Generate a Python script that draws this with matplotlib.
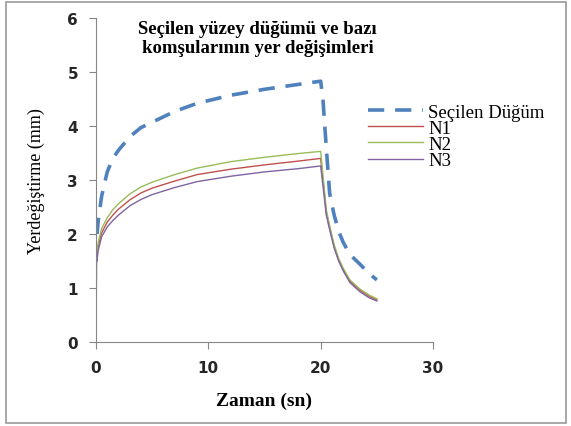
import numpy as np
import matplotlib.pyplot as plt
from matplotlib.patches import Rectangle

t = [0, 0.05, 0.2, 0.5, 1, 1.5, 2, 3, 4, 5, 7, 9, 12, 15, 18, 20,
     20.2, 20.5, 20.8, 21.2, 21.6, 22, 22.6, 23.5, 24.3, 25]
secilen = [1.5, 1.9, 2.25, 2.7, 3.15, 3.4, 3.55, 3.8, 3.97, 4.07, 4.27, 4.42, 4.57, 4.68, 4.77, 4.83,
           4.5, 3.6, 2.75, 2.35, 2.05, 1.85, 1.62, 1.44, 1.27, 1.15]
n1 = [1.3, 1.55, 1.78, 2.02, 2.22, 2.35, 2.46, 2.63, 2.76, 2.85, 2.98, 3.1, 3.2, 3.28, 3.35, 3.4,
      3.0, 2.4, 2.12, 1.77, 1.52, 1.34, 1.13, 0.96, 0.85, 0.78]
n2 = [1.35, 1.6, 1.85, 2.1, 2.3, 2.45, 2.56, 2.74, 2.87, 2.96, 3.1, 3.22, 3.34, 3.42, 3.49, 3.53,
      3.1, 2.45, 2.15, 1.8, 1.55, 1.37, 1.15, 0.98, 0.87, 0.8]
n3 = [0, 1.45, 1.7, 1.95, 2.13, 2.25, 2.35, 2.52, 2.64, 2.73, 2.86, 2.97, 3.07, 3.15, 3.21, 3.26,
      2.9, 2.35, 2.08, 1.74, 1.5, 1.32, 1.1, 0.93, 0.82, 0.76]

serif = "Liberation Serif"

fig = plt.figure(figsize=(5.71, 4.27), dpi=100)
ax = fig.add_axes([96/571, 1 - 343/427, 337/571, 324/427])

ax.plot(t, secilen, color="#4F81BD", lw=2.6, dashes=(4.5, 3), label="Seçilen Düğüm")
ax.plot(t, n1, color="#C0504D", lw=1, label="N1")
ax.plot(t, n2, color="#9BBB59", lw=1, label="N2")
ax.plot(t, n3, color="#8064A2", lw=1, label="N3")

ax.set_xlim(0, 30)
ax.set_ylim(0, 6)
ax.set_xticks([0, 10, 20, 30])
ax.set_yticks([0, 1, 2, 3, 4, 5, 6])
for s in ["top", "right"]:
    ax.spines[s].set_visible(False)
for s in ["left", "bottom"]:
    ax.spines[s].set_color("#868686")
ax.tick_params(colors="#868686", labelcolor="#262626", length=5, pad=8)
for lab in ax.get_xticklabels() + ax.get_yticklabels():
    lab.set_fontweight("bold")
    lab.set_fontsize(11)

ax.set_xlabel("Zaman (sn)", fontfamily=serif, fontweight="bold", fontsize=14, labelpad=12)
ax.set_ylabel("Yerdeğiştirme (mm)", fontfamily=serif, fontsize=13, labelpad=16)

ax.text(0.48, 0.995, "Seçilen yüzey düğümü ve bazı\nkomşularının yer değişimleri",
        transform=ax.transAxes, ha="center", va="top", fontfamily=serif,
        fontweight="bold", fontsize=13.5, linespacing=1.2)

fig.legend(loc="upper left", bbox_to_anchor=(359/571, 1 - 95/427), frameon=False,
           prop={"family": serif, "size": 13.5}, handlelength=2.9, handletextpad=0.3,
           labelspacing=-0.05, borderpad=0)

fig.patches.append(Rectangle((6/571, 3/427), 560/571, 421/427, transform=fig.transFigure,
                             fill=False, edgecolor="#9a9a9a", lw=1.2))

fig.savefig("out.png", dpi=100)
